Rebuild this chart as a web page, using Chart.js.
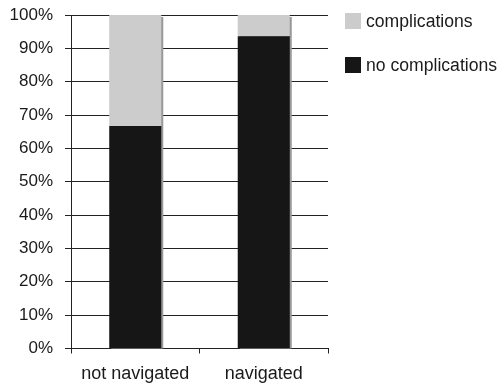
<!DOCTYPE html>
<html>
<head>
<meta charset="utf-8">
<script src="https://cdn.jsdelivr.net/npm/chart.js@4/dist/chart.umd.min.js"></script>
<style>
  html, body { margin: 0; padding: 0; background: #ffffff; }
  #wrap { width: 499px; height: 386px; }
</style>
</head>
<body>
<div id="wrap"><canvas id="chart" width="499" height="386"></canvas></div>
<script>
// Share of patients, in percent
const categories = ['not navigated', 'navigated'];
const noComplications = [66.7, 93.6];
const complications = [33.3, 6.4];
const seriesLabels = ['no complications', 'complications'];

const TEXT = '#1a1a1a';
const LINE = '#222222';
const FAMILY = '"Liberation Sans", Arial, Helvetica, sans-serif';

Chart.defaults.font.family = FAMILY;
Chart.defaults.font.size = 17;
Chart.defaults.color = TEXT;

// Flat grey drop shadow down and to the right of every bar
const barShadow = {
  id: 'barShadow',
  beforeDatasetsDraw(chart) {
    const ctx = chart.ctx;
    ctx.save();
    ctx.shadowColor = '#999999';
    ctx.shadowOffsetX = 2;
    ctx.shadowOffsetY = 2;
    ctx.shadowBlur = 0;
  },
  afterDatasetsDraw(chart) {
    chart.ctx.restore();
  }
};

// Legend to the right of the plot, top series first
const sideLegend = {
  id: 'sideLegend',
  afterDraw(chart, args, opts) {
    const ctx = chart.ctx;
    const items = chart.data.datasets.slice().reverse();
    ctx.save();
    ctx.font = '17.6px ' + FAMILY;
    ctx.textBaseline = 'middle';
    ctx.textAlign = 'left';
    items.forEach((ds, i) => {
      const cy = opts.top + i * opts.spacing;
      ctx.fillStyle = ds.backgroundColor;
      ctx.fillRect(opts.left, cy - opts.box / 2, opts.box, opts.box);
      ctx.fillStyle = TEXT;
      ctx.fillText(ds.label, opts.left + opts.box + 5, cy + 1);
    });
    ctx.restore();
  }
};

new Chart(document.getElementById('chart'), {
  type: 'bar',
  data: {
    labels: categories,
    datasets: [
      {
        label: seriesLabels[0],
        data: noComplications,
        backgroundColor: '#161616',
        borderWidth: 0,
        clip: 0
      },
      {
        label: seriesLabels[1],
        data: complications,
        backgroundColor: '#cccccc',
        borderWidth: 0,
        clip: 0
      }
    ]
  },
  options: {
    responsive: false,
    devicePixelRatio: 1,
    animation: false,
    layout: { padding: { left: 0, top: 15, right: 171, bottom: 0 } },
    datasets: {
      bar: { barPercentage: 1, categoryPercentage: 0.405 }
    },
    plugins: {
      legend: { display: false },
      tooltip: { enabled: false },
      sideLegend: { left: 345, top: 21, spacing: 44, box: 16 }
    },
    scales: {
      x: {
        stacked: true,
        grid: {
          offset: true,
          drawOnChartArea: false,
          drawTicks: true,
          tickLength: 5,
          color: LINE
        },
        border: { display: true, color: LINE },
        ticks: { color: TEXT, padding: 10, maxRotation: 0, font: { size: 18 } },
        afterFit(scale) { scale.height = 37.5; }
      },
      y: {
        stacked: true,
        min: 0,
        max: 100,
        ticks: {
          stepSize: 10,
          color: TEXT,
          padding: 12,
          callback: (v) => v + '%'
        },
        grid: { color: LINE, tickLength: 6 },
        border: { display: true, color: LINE },
        afterFit(scale) {
          scale.width = 71;
          scale.paddingTop = 0;
          scale.paddingBottom = 0;
        }
      }
    }
  },
  plugins: [barShadow, sideLegend]
});
</script>
</body>
</html>
